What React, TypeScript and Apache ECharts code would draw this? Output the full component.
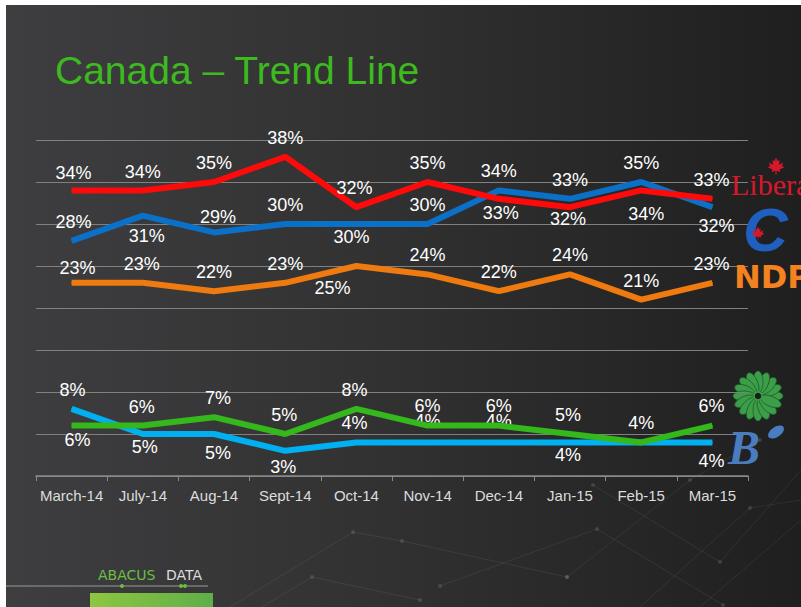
import React, { useEffect, useRef } from "react";
import * as echarts from "echarts";

const categories = ["March-14", "July-14", "Aug-14", "Sept-14", "Oct-14", "Nov-14", "Dec-14", "Jan-15", "Feb-15", "Mar-15"];
const liberal = [34, 34, 35, 38, 32, 35, 33, 32, 34, 33];
const conservative = [28, 31, 29, 30, 30, 30, 34, 33, 35, 32];
const ndp = [23, 23, 22, 23, 25, 24, 22, 24, 21, 23];
const green = [6, 6, 7, 5, 8, 6, 6, 5, 4, 6];
const bloc = [8, 5, 5, 3, 4, 4, 4, 4, 4, 4];
const yTicks = { min: 0, max: 40, interval: 5 };

// label placement (style only): [dx, dy] from the point, null = no label
type Off = [number, number] | null;
const liberalLbl: Off[] = [[2, -17], [0, -18], [0, -19], [0, -19], [-2, -19], [0, -19], [2, 14], [-2, 12], [5, 24], [-1, -19]];
const conservativeLbl: Off[] = [[2, -19], [4, 20], [4, -15], [0, -19], [-5, 13], [0, -19], [0, -19], [0, -19], [0, -19], [4, 19]];
const ndpLbl: Off[] = [[6, -15], [-1, -19], [0, -19], [0, -19], [-24, 22], [0, -19], [0, -19], [0, -19], [0, -19], [-1, -19]];
const greenLbl: Off[] = [[6, 14], [-1, -19], [4, -19], [-1, -19], [-2, -19], [0, -20], [0, -20], [-2, -19], [0, -19], [-1, -20]];
const blocLbl: Off[] = [[1, -19], [2, 13], [4, 19], [-2, 16], [-2, -19], [0, -21], [0, -21], [-2, 13], null, [-1, 19]];

const FONT = "'Liberation Sans', Arial, sans-serif";

function mkSeries(name: string, values: number[], lbl: Off[], color: string, z: number) {
  return {
    name,
    type: "line",
    z,
    silent: true,
    symbol: "circle",
    symbolSize: 1,
    itemStyle: { color },
    lineStyle: { color, width: 6 },
    emphasis: { disabled: true },
    label: {
      show: true,
      position: "inside",
      color: "#ffffff",
      fontSize: 18,
      fontFamily: FONT,
      formatter: "{c}%",
    },
    data: values.map((v, i) => ({
      value: v,
      label: lbl[i] ? { show: true, offset: lbl[i] } : { show: false },
    })),
  };
}

const leafPts = [[0, -7], [1.5, -4], [3, -5], [2.5, -1], [6, -3], [5, 0], [7, 1], [3, 3], [3.5, 5], [0.5, 4], [0.5, 7], [-0.5, 7], [-0.5, 4], [-3.5, 5], [-3, 3], [-7, 1], [-5, 0], [-6, -3], [-2.5, -1], [-3, -5], [-1.5, -4]];

function leaf(cx: number, cy: number, s: number, color: string) {
  return {
    type: "polygon",
    silent: true,
    shape: { points: leafPts.map((p) => [cx + p[0] * s, cy + p[1] * s]) },
    style: { fill: color },
    z: 12,
  };
}

function flower(cx: number, cy: number) {
  const petals: any[] = [];
  const n = 16;
  for (let k = 0; k < n; k++) {
    petals.push({
      type: "group",
      rotation: (k * 2 * Math.PI) / n,
      children: [
        {
          type: "ellipse",
          shape: { cx: 14, cy: 0, rx: 11, ry: 5 },
          style: { fill: "#3c9e48", stroke: "#1f5e29", lineWidth: 0.8 },
        },
      ],
    });
  }
  petals.push({ type: "circle", shape: { cx: 0, cy: 0, r: 4 }, style: { fill: "#1c1c1c", stroke: "#3c9e48", lineWidth: 1.5 } });
  return { type: "group", x: cx, y: cy, silent: true, z: 10, children: petals };
}

function txt(text: string, x: number, y: number, fill: string, fontSize: number, fontFamily: string, extra: any = {}) {
  return {
    type: "text",
    x,
    y,
    silent: true,
    z: 10,
    style: {
      text,
      fill,
      fontSize,
      fontFamily,
      align: "left",
      verticalAlign: "middle",
      textAlign: "left",
      textVerticalAlign: "middle",
      ...extra,
    },
  };
}

const deco = [
  [[230, 607], [353, 532], [402, 541], [567, 577]],
  [[262, 607], [312, 577], [420, 600]],
  [[440, 586], [597, 529], [723, 605]],
  [[567, 577], [690, 480], [760, 440]],
  [[593, 485], [720, 562], [801, 470]],
  [[640, 607], [750, 508], [801, 500]],
  [[700, 607], [801, 520]],
];

export default function App() {
  const ref = useRef<HTMLDivElement>(null);
  useEffect(() => {
    if (!ref.current) return;
    const chart = echarts.init(ref.current, null, { renderer: "svg" });
    const graphics: any[] = [];
    deco.forEach((pts) => {
      graphics.push({
        type: "polyline",
        silent: true,
        z: -5,
        shape: { points: pts },
        style: { stroke: "rgba(255,255,255,0.07)", lineWidth: 1, fill: null },
      });
      pts.forEach((p) => {
        if (p[0] < 801 && p[1] < 607) graphics.push({ type: "circle", silent: true, z: -5, shape: { cx: p[0], cy: p[1], r: 2 }, style: { fill: "rgba(255,255,255,0.12)" } });
      });
    });
    graphics.push(txt("Canada \u2013 Trend Line", 55, 70, "#3dba1e", 39, FONT));
    // party marks
    graphics.push(txt("Liberal", 731, 184, "#d7182a", 30, "'Liberation Serif', 'Times New Roman', serif"));
    graphics.push(leaf(776, 166, 1.2, "#d7182a"));
    graphics.push(txt("C", 743, 229, "#1f5fbf", 62, FONT, { fontWeight: "bold", fontStyle: "italic" }));
    graphics.push(leaf(758, 233, 0.9, "#d7182a"));
    graphics.push(txt("NDP", 734, 277, "#f58220", 32, "'DejaVu Sans', sans-serif", { fontWeight: "bold" }));
    graphics.push(flower(758, 396));
    graphics.push(txt("B", 728, 447, "#4a7cc0", 48, "'Liberation Serif', serif", { fontWeight: "bold", fontStyle: "italic" }));
    graphics.push({ type: "ellipse", silent: true, z: 10, rotation: 0.6, x: 776, y: 432, shape: { cx: 0, cy: 0, rx: 9, ry: 5 }, style: { fill: "#4a7cc0" } });
    // Abacus logo
    graphics.push(txt("ABACUS", 98, 575, "#6cbd45", 14, "'DejaVu Sans', sans-serif"));
    graphics.push(txt("DATA", 166, 575, "#dddddd", 14, "'DejaVu Sans', sans-serif"));
    graphics.push({ type: "line", silent: true, z: 10, shape: { x1: 6, y1: 586, x2: 208, y2: 586 }, style: { stroke: "#9a9a9a", lineWidth: 1 } });
    [122, 181, 185].forEach((cx) => graphics.push({ type: "circle", silent: true, z: 11, shape: { cx, cy: 586, r: 2 }, style: { fill: "#6cbd45" } }));
    graphics.push({
      type: "rect",
      silent: true,
      z: 10,
      shape: { x: 90, y: 593, width: 123, height: 14 },
      style: {
        fill: new echarts.graphic.LinearGradient(0, 0, 1, 0, [
          { offset: 0, color: "#8dc641" },
          { offset: 1, color: "#5fae4a" },
        ]),
      },
    });

    chart.setOption({
      animation: false,
      backgroundColor: "transparent",
      grid: { left: 36, right: 53, top: 140, bottom: 131, containLabel: false },
      xAxis: {
        type: "category",
        data: categories,
        boundaryGap: true,
        axisLine: { lineStyle: { color: "#8a8a8a", width: 1.5 } },
        axisTick: { show: true, length: 5, lineStyle: { color: "#8a8a8a", width: 1 } },
        axisLabel: { color: "#dcdcdc", fontSize: 15, fontFamily: FONT, margin: 12, interval: 0 },
      },
      yAxis: {
        type: "value",
        min: yTicks.min,
        max: yTicks.max,
        interval: yTicks.interval,
        axisLine: { show: false },
        axisTick: { show: false },
        axisLabel: { show: false },
        splitLine: { lineStyle: { color: "#808080", width: 1 } },
      },
      series: [
        mkSeries("Bloc", bloc, blocLbl, "#00b0f0", 2),
        mkSeries("Green", green, greenLbl, "#34b81c", 3),
        mkSeries("NDP", ndp, ndpLbl, "#ee7a10", 4),
        mkSeries("Conservative", conservative, conservativeLbl, "#0a70c8", 5),
        mkSeries("Liberal", liberal, liberalLbl, "#ff0a0a", 6),
      ],
      graphic: graphics,
    });
    return () => chart.dispose();
  }, []);

  return (
    <div style={{ position: "absolute", left: 0, top: 0, width: 801, height: 607, background: "#ffffff", overflow: "hidden" }}>
      <div
        style={{
          position: "absolute",
          left: 6,
          top: 5,
          right: 0,
          bottom: 0,
          background: "linear-gradient(to right, #3e3e40 0%, #323233 45%, #1f1f1f 100%)",
        }}
      />
      <div ref={ref} style={{ position: "absolute", left: 0, top: 0, width: 801, height: 607 }} />
    </div>
  );
}
